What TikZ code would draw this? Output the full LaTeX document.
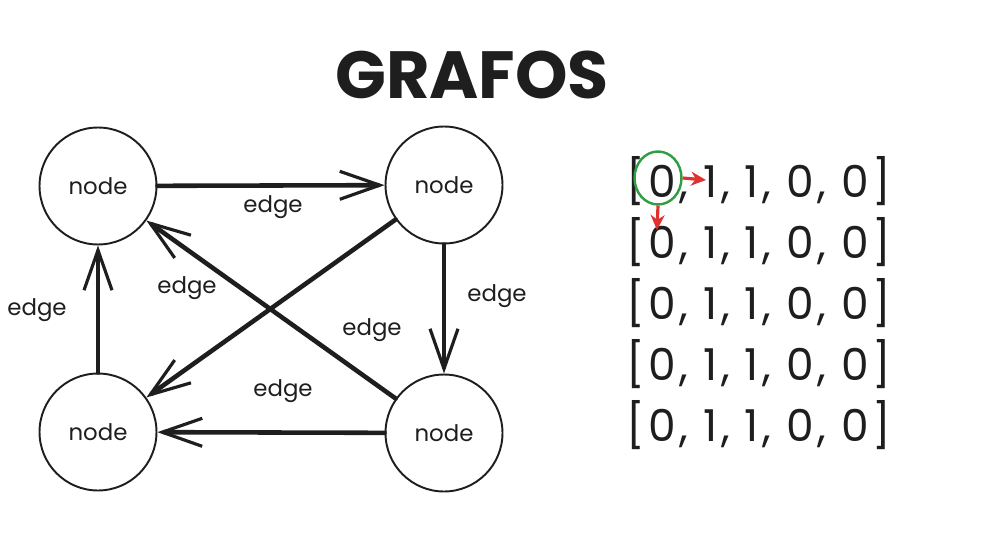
\documentclass[tikz,border=0pt]{standalone}
\usepackage{fontspec}
\setmainfont{Poppins}
\usepackage{xcolor}
\usetikzlibrary{arrows.meta,positioning,shapes.geometric}

\definecolor{hlgreen}{HTML}{2F9E44}
\definecolor{hlred}{HTML}{E03131}
\definecolor{ink}{HTML}{1E1E1E}

\begin{document}
\begin{tikzpicture}[
    x=0.02cm, y=-0.02cm,
    every node/.style={font=\fontsize{13}{15}\selectfont, text=ink},
    vertex/.style={circle, draw=ink, line width=1.1pt, minimum size=2.34cm, inner sep=0pt},
    link/.style={draw=ink, line width=2.6pt, line cap=round,
        -{Straight Barb[length=8mm, width=5.6mm, line width=1.8pt]}},
    lbl/.style={font=\fontsize{13}{15}\selectfont},
    row/.style={anchor=west, inner sep=0pt, font=\fontsize{25}{28}\selectfont\addfontfeature{LetterSpace=8}},
    pointer/.style={draw=hlred, line width=1.8pt, -{Stealth[length=3mm, width=2.8mm]}},
]
    \useasboundingbox (0,0) rectangle (984,551);

    % title
    \node[font=\fontsize{38}{42}\selectfont\bfseries] (title) at (472,75) {GRAFOS};

    % graph (left)
    \node[vertex] (tl) at (98,186) {node};
    \node[vertex] (tr) at (444,185) {node};
    \node[vertex] (bl) at (98,432) {node};
    \node[vertex] (br) at (444,433) {node};

    \draw[link] (tl) -- (tr);
    \draw[link] (tr) -- (br);
    \draw[link] (br) -- (bl);
    \draw[link] (bl) -- (tl);
    \draw[link] (tr) -- (bl);
    \draw[link] (br) -- (tl);

    \node[lbl] (e1) at (273,207) {edge};
    \node[lbl] (e2) at (497,296) {edge};
    \node[lbl] (e3) at (283,391) {edge};
    \node[lbl] (e4) at (37,310) {edge};
    \node[lbl] (e5) at (187,288) {edge};
    \node[lbl] (e6) at (372,330) {edge};

    % adjacency rows (right)
    \node[row] (r1) at (626,181) {[0, 1, 1, 0, 0]};
    \node[row] (r2) at (626,242) {[0, 1, 1, 0, 0]};
    \node[row] (r3) at (626,303) {[0, 1, 1, 0, 0]};
    \node[row] (r4) at (626,364) {[0, 1, 1, 0, 0]};
    \node[row] (r5) at (626,425) {[0, 1, 1, 0, 0]};

    % highlight of first cell
    \node[ellipse, draw=hlgreen, line width=1.4pt, minimum width=0.94cm, minimum height=1.06cm] (hl) at (658,178) {};
    \coordinate (hr) at (706,180);
    \coordinate (hd) at (657,230);
    \draw[pointer] (hl.east) -- (hr);
    \draw[pointer] (hl.south) -- (hd);
\end{tikzpicture}
\end{document}
